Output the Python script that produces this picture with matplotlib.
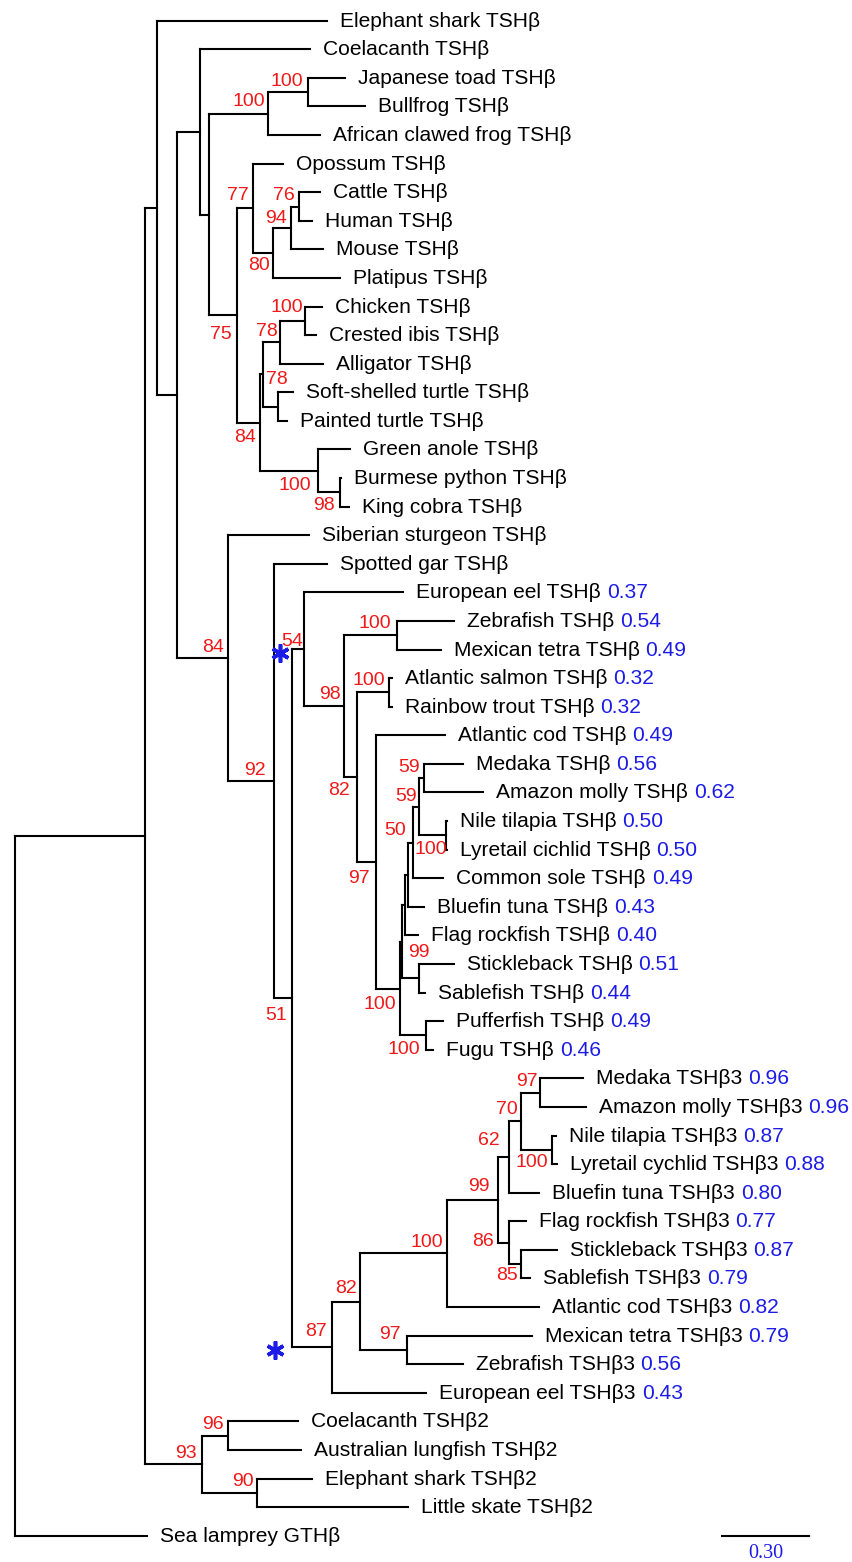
import matplotlib
matplotlib.use("Agg")
import matplotlib.pyplot as plt

plt.rcParams['font.family'] = ['Liberation Sans', 'DejaVu Sans']

# ---------------- data ----------------
leaf_names = [
    "Elephant shark TSHβ", "Coelacanth TSHβ", "Japanese toad TSHβ", "Bullfrog TSHβ",
    "African clawed frog TSHβ", "Opossum TSHβ", "Cattle TSHβ", "Human TSHβ", "Mouse TSHβ",
    "Platipus TSHβ", "Chicken TSHβ", "Crested ibis TSHβ", "Alligator TSHβ",
    "Soft-shelled turtle TSHβ", "Painted turtle TSHβ", "Green anole TSHβ",
    "Burmese python TSHβ", "King cobra TSHβ", "Siberian sturgeon TSHβ", "Spotted gar TSHβ",
    "European eel TSHβ", "Zebrafish TSHβ", "Mexican tetra TSHβ", "Atlantic salmon TSHβ",
    "Rainbow trout TSHβ", "Atlantic cod TSHβ", "Medaka TSHβ", "Amazon molly TSHβ",
    "Nile tilapia TSHβ", "Lyretail cichlid TSHβ", "Common sole TSHβ", "Bluefin tuna TSHβ",
    "Flag rockfish TSHβ", "Stickleback TSHβ", "Sablefish TSHβ", "Pufferfish TSHβ",
    "Fugu TSHβ", "Medaka TSHβ3", "Amazon molly TSHβ3", "Nile tilapia TSHβ3",
    "Lyretail cychlid TSHβ3", "Bluefin tuna TSHβ3", "Flag rockfish TSHβ3",
    "Stickleback TSHβ3", "Sablefish TSHβ3", "Atlantic cod TSHβ3", "Mexican tetra TSHβ3",
    "Zebrafish TSHβ3", "European eel TSHβ3", "Coelacanth TSHβ2",
    "Australian lungfish TSHβ2", "Elephant shark TSHβ2", "Little skate TSHβ2",
    "Sea lamprey GTHβ",
]

# distance of each tip from the root (substitutions/site)
leaf_depth = [
    1.068, 1.010, 1.130, 1.199, 1.045, 0.917, 1.045, 1.016, 1.054, 1.113,
    1.050, 1.030, 1.056, 0.951, 0.930, 1.147, 1.118, 1.144, 1.008, 1.067,
    1.330, 1.503, 1.458, 1.290, 1.290, 1.473, 1.535, 1.604, 1.479, 1.479,
    1.467, 1.401, 1.380, 1.503, 1.404, 1.467, 1.433, 1.946, 1.954, 1.853,
    1.855, 1.796, 1.750, 1.855, 1.764, 1.795, 1.769, 1.533, 1.409, 0.968,
    0.979, 1.018, 1.347, 0.451,
]

# blue values shown after the names
leaf_values = {
    20: "0.37", 21: "0.54", 22: "0.49", 23: "0.32", 24: "0.32", 25: "0.49",
    26: "0.56", 27: "0.62", 28: "0.50", 29: "0.50", 30: "0.49", 31: "0.43",
    32: "0.40", 33: "0.51", 34: "0.44", 35: "0.49", 36: "0.46",
    37: "0.96", 38: "0.96", 39: "0.87", 40: "0.88", 41: "0.80", 42: "0.77",
    43: "0.87", 44: "0.79", 45: "0.82", 46: "0.79", 47: "0.56", 48: "0.43",
}

# internal nodes: children (top -> bottom), ints are leaf indices
node_children = {
    'root': ['N0', 53], 'N0': ['N1', 'NB2'], 'N1': [0, 'N2'], 'N2': ['N3', 'N19'],
    'N3': [1, 'N4'], 'N4': ['N5', 'N6'], 'N5': ['N7', 4], 'N7': [2, 3],
    'N6': ['N8', 'N9'], 'N8': [5, 'N10'], 'N10': ['N11', 9], 'N11': ['N12', 8],
    'N12': [6, 7], 'N9': ['N13', 'N14'], 'N13': ['N15', 'N16'], 'N15': ['N17', 12],
    'N17': [10, 11], 'N16': [13, 14], 'N14': [15, 'N18'], 'N18': [16, 17],
    'N19': [18, 'N20'], 'N20': [19, 'N21'], 'N21': ['N22', 'N23'], 'N22': [20, 'N24'],
    'N24': ['N25', 'N26'], 'N25': [21, 22], 'N26': ['N27', 'N28'], 'N27': [23, 24],
    'N28': [25, 'N29'], 'N29': ['PA', 'PF'], 'PA': ['PB', 'PSS'], 'PB': ['PC', 32],
    'PC': ['PD', 31], 'PD': ['PE', 30], 'PE': ['PM', 'PNL'], 'PM': [26, 27],
    'PNL': [28, 29], 'PSS': [33, 34], 'PF': [35, 36], 'N23': ['R1', 48],
    'R1': ['Q8', 'R2'], 'Q8': ['Q5', 45], 'Q5': ['Q4', 'Q6'], 'Q4': ['Q3', 41],
    'Q3': ['Q1', 'Q2'], 'Q1': [37, 38], 'Q2': [39, 40], 'Q6': [42, 'Q7'],
    'Q7': [43, 44], 'R2': [46, 47], 'NB2': ['NB2a', 'NB2b'], 'NB2a': [49, 50],
    'NB2b': [51, 52],
}

# distance of each internal node from the root
node_depth = {
    'root': 0.000, 'N0': 0.445, 'N1': 0.486, 'N2': 0.556, 'N3': 0.634, 'N4': 0.665,
    'N5': 0.867, 'N7': 1.004, 'N6': 0.759, 'N8': 0.816, 'N10': 0.883, 'N11': 0.945,
    'N12': 0.973, 'N9': 0.839, 'N13': 0.850, 'N15': 0.908, 'N17': 0.993, 'N16': 0.900,
    'N14': 1.039, 'N18': 1.113, 'N19': 0.730, 'N20': 0.887, 'N21': 0.950, 'N22': 0.991,
    'N24': 1.127, 'N25': 1.309, 'N26': 1.172, 'N27': 1.281, 'N28': 1.236, 'N29': 1.318,
    'PA': 1.325, 'PB': 1.336, 'PC': 1.347, 'PD': 1.364, 'PE': 1.385, 'PM': 1.402,
    'PNL': 1.475, 'PSS': 1.385, 'PF': 1.406, 'N23': 1.085, 'R1': 1.182, 'Q8': 1.480,
    'Q5': 1.655, 'Q4': 1.693, 'Q3': 1.732, 'Q1': 1.798, 'Q2': 1.838, 'Q6': 1.693,
    'Q7': 1.732, 'R2': 1.341, 'NB2': 0.639, 'NB2a': 0.728, 'NB2b': 0.828,
}

# bootstrap support
bootstrap = {
    'N7': 100, 'N5': 100, 'N8': 77, 'N12': 76, 'N11': 94, 'N10': 80, 'N6': 75,
    'N17': 100, 'N15': 78, 'N13': 78, 'N9': 84, 'N14': 100, 'N18': 98, 'N19': 84,
    'N20': 92, 'N22': 54, 'N21': 51, 'N24': 98, 'N25': 100, 'N27': 100, 'N26': 82,
    'N28': 97, 'N29': 100, 'PM': 59, 'PE': 59, 'PD': 50, 'PNL': 100, 'PA': 99,
    'PF': 100, 'Q1': 97, 'Q3': 70, 'Q4': 62, 'Q2': 100, 'Q5': 99, 'Q6': 86, 'Q7': 85,
    'Q8': 100, 'R1': 82, 'R2': 97, 'N23': 87, 'NB2a': 96, 'NB2': 93, 'NB2b': 90,
}
starred_nodes = ['N22', 'N23']
scale_length = 0.30

# ---------------- layout (pixels) ----------------
W, H = 853, 1562
PX = 292.0          # pixels per unit branch length
X0 = 15.0           # pixel x of root
Y0, DY = 20.7, 28.585
LW = 1.5

# label offsets from the node: (right edge dx, centre dy) in pixels, +dy = downwards
label_off = {
    'N7': (-5, -13.2), 'N5': (-2.6, -14.6), 'N8': (-5, -15.6), 'N12': (-4, -13.8),
    'N11': (-3.7, -12.3), 'N10': (-3.4, 10.3), 'N6': (-5, 16.2), 'N17': (-1.7, -15.9),
    'N15': (-2.7, -13), 'N13': (24.4, 2.8), 'N9': (-4, 12.3), 'N14': (-7.3, 12.3),
    'N18': (-5, 10.9), 'N19': (-4, -13.1), 'N20': (-8, -12.7), 'N22': (-1.6, -10),
    'N21': (-5, 15), 'N24': (-3.3, -14.6), 'N25': (-6.6, -14.3), 'N27': (-4, -14.2),
    'N26': (-7.3, 11.1), 'N28': (-6, 14), 'N29': (-3.3, 13.1), 'PM': (-5, -13.2),
    'PE': (-2.6, -12.5), 'PD': (-7.3, -14.3), 'PNL': (1, 11.3), 'PA': (27.3, 8.3),
    'PF': (-5, 11.2), 'Q1': (-2.7, -13.6), 'Q3': (-3.4, -13.9), 'Q4': (-9.3, -18.7),
    'Q2': (-3.4, 10.2), 'Q5': (-9, -15.8), 'Q6': (-15.3, -3.7), 'Q7': (-2.4, 9.2),
    'Q8': (-4, -13.4), 'R1': (-3.3, -15.7), 'R2': (-6, -18.2), 'N23': (-5, -17.9),
    'NB2a': (-3.7, -14), 'NB2': (-5, -13.5), 'NB2b': (-3.4, -13.5),
}
star_off = {'N22': (-24.3, 3.4), 'N23': (-56.7, 2.8)}

fig = plt.figure(figsize=(W / 100, H / 100), dpi=100)
ax = fig.add_axes([0, 0, 1, 1])
ax.set_xlim(-X0 / PX, (W - X0) / PX)
ax.set_ylim((H - Y0) / DY, -Y0 / DY)
ax.axis('off')

def dxp(p):
    return p / PX

def dyp(p):
    return p / DY

ypos = {}

def get_y(n):
    if isinstance(n, int):
        return float(n)
    if n in ypos:
        return ypos[n]
    ch = node_children[n]
    y = 0.5 * (get_y(ch[0]) + get_y(ch[-1]))
    ypos[n] = y
    return y

def get_x(n):
    return leaf_depth[n] if isinstance(n, int) else node_depth[n]

for n, ch in node_children.items():
    x = node_depth[n]
    ys = [get_y(c) for c in ch]
    ax.plot([x, x], [ys[0], ys[-1]], color='black', lw=LW, solid_capstyle='projecting')
    for c, yc in zip(ch, ys):
        ax.plot([x, get_x(c)], [yc, yc], color='black', lw=LW, solid_capstyle='projecting')

BLUE = '#1c1ce6'
RED = '#f01818'
FS_LEAF = 15.1
FS_BOOT = 14.0

for i, name in enumerate(leaf_names):
    t = ax.text(leaf_depth[i] + dxp(13), i + dyp(6), name, ha='left', va='baseline',
                fontsize=FS_LEAF, color='black')
    if i in leaf_values:
        ax.annotate(leaf_values[i], xy=(1, 0), xycoords=t, xytext=(5.8 * 0.72, 0),
                    textcoords='offset points', ha='left', va='bottom',
                    fontsize=FS_LEAF, color=BLUE)

for n, val in bootstrap.items():
    dx, dy = label_off[n]
    ax.text(node_depth[n] + dxp(dx), get_y(n) + dyp(dy + 7), str(val), ha='right',
            va='baseline', fontsize=FS_BOOT, color=RED)

for n in starred_nodes:
    dx, dy = star_off[n]
    ax.plot([node_depth[n] + dxp(dx)], [get_y(n) + dyp(dy)], linestyle='none',
            marker=(6, 2, 0), markersize=13, markeredgewidth=2.6, color=BLUE)

# scale bar
sb_x = dxp(721.7 - X0)
sb_y = get_y(53)
ax.plot([sb_x, sb_x + scale_length], [sb_y, sb_y], color='black', lw=LW)
ax.text(sb_x + scale_length / 2, sb_y + dyp(22), f"{scale_length:.2f}", ha='center',
        va='baseline', fontsize=14.5, color=BLUE, family=['Liberation Serif', 'DejaVu Serif'])

fig.savefig('out.png', dpi=100)
